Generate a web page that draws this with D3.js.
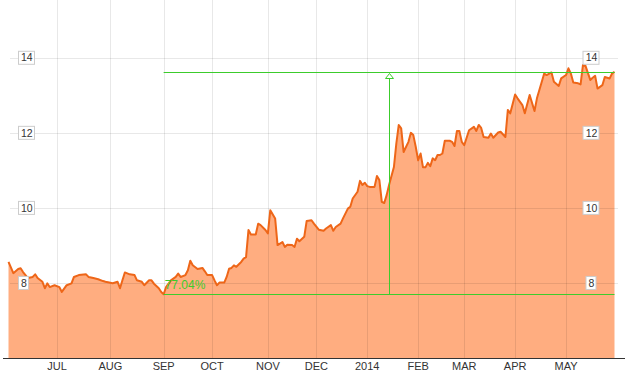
<!DOCTYPE html>
<html>
<head>
<meta charset="utf-8">
<script src="https://cdn.jsdelivr.net/npm/d3@7"></script>
<style>
  body { margin: 0; background: #fff; }
  svg { display: block; font-family: Arial, "Liberation Sans", sans-serif; }
</style>
</head>
<body>
<svg width="628" height="375"></svg>
<script>
// month ticks, as trading-day offsets from Jun 3 2013
var monthLabels = ["JUL", "AUG", "SEP", "OCT", "NOV", "DEC", "2014", "FEB", "MAR", "APR", "MAY"];
var monthStart = [20, 42, 64, 84, 107, 127, 148, 169, 188, 209, 230];
var yTicks = [8, 10, 12, 14];

// daily closes (sampled trading days)
var days = [0, 2, 4, 5, 6, 8, 10, 11, 12, 14, 15, 16, 17, 19, 21, 22, 24, 26, 27, 29,
  32, 33, 35, 37, 39, 40, 43, 45, 46, 47, 48, 50, 52, 53, 55, 56, 58, 59, 60, 62,
  63, 64, 65, 67, 69, 70, 71, 73, 74, 75, 76, 78, 80, 81, 82, 84, 85, 86, 87, 89,
  90, 91, 92, 93, 94, 96, 97, 98, 99, 100, 102, 103, 104, 106, 107, 108, 110, 111, 113, 114,
  115, 117, 118, 119, 120, 122, 123, 125, 126, 128, 130, 131, 133, 134, 135, 137, 138, 140, 141, 142,
  144, 145, 146, 147, 148, 149, 151, 152, 153, 154, 155, 156, 157, 159, 160, 161, 162, 163, 165, 166,
  167, 168, 169, 170, 171, 172, 173, 174, 175, 176, 177, 178, 179, 180, 182, 183, 184, 185, 186, 187,
  188, 190, 192, 193, 194, 195, 196, 198, 199, 200, 202, 203, 205, 206, 207, 209, 210, 212, 213, 215,
  217, 218, 220, 221, 222, 224, 225, 227, 228, 230, 231, 232, 233, 235, 236, 237, 238, 240, 241, 242,
  243, 245, 246, 248, 249, 250];
var closes = [8.56, 8.26, 8.37, 8.39, 8.29, 8.13, 8.16, 8.23, 8.13, 8.03, 7.86, 7.99, 7.89, 7.94, 7.89, 7.76, 7.94, 7.99, 8.16, 8.21,
  8.23, 8.16, 8.13, 8.10, 8.05, 8.03, 7.99, 8.03, 7.86, 8.07, 8.28, 8.23, 8.21, 8.07, 8.03, 7.94, 8.07, 8.07, 7.98, 7.86,
  7.76, 7.699, 7.89, 8.07, 8.16, 8.25, 8.16, 8.21, 8.34, 8.59, 8.47, 8.37, 8.40, 8.31, 8.21, 8.21, 8.07, 7.94, 8.01, 8.01,
  8.16, 8.38, 8.40, 8.47, 8.43, 8.56, 8.65, 8.69, 9.41, 9.29, 9.29, 9.58, 9.54, 9.41, 9.32, 9.94, 9.72, 9.01, 9.09, 8.96,
  9.02, 9.01, 8.96, 9.18, 9.11, 9.23, 9.65, 9.67, 9.58, 9.42, 9.39, 9.45, 9.54, 9.39, 9.49, 9.58, 9.72, 9.98, 10.03, 10.25,
  10.43, 10.72, 10.61, 10.67, 10.58, 10.56, 10.56, 10.85, 10.74, 10.16, 10.13, 10.34, 10.61, 11.09, 11.72, 12.21, 12.12, 11.49, 11.76, 12.00,
  11.94, 11.63, 11.27, 11.45, 11.08, 11.08, 11.20, 11.11, 11.32, 11.27, 11.41, 11.41, 11.45, 11.79, 11.79, 11.76, 11.65, 12.05, 12.05, 11.76,
  11.67, 12.07, 12.16, 12.05, 12.21, 12.13, 11.89, 11.87, 11.98, 11.87, 12.01, 12.03, 11.89, 12.61, 12.52, 13.02, 12.92, 12.74, 12.52, 13.01,
  12.58, 12.92, 13.36, 13.58, 13.54, 13.61, 13.36, 13.25, 13.45, 13.54, 13.72, 13.58, 13.34, 13.32, 13.29, 13.81, 13.79, 13.41, 13.47, 13.52,
  13.18, 13.27, 13.49, 13.45, 13.58, 13.63];

var data = days.map(function (d, i) { return { day: d, close: closes[i] }; });

var svg = d3.select("svg"),
    width = +svg.attr("width"),
    height = +svg.attr("height");

var baseY = 358;
var green = "#3ccc2c";

var x = d3.scaleLinear().domain([0, 250]).range([8.5, 614.5]);
var y = d3.scaleLinear().domain([6, 15.54]).range([baseY, 0]);

var area = d3.area()
    .x(function (d) { return x(d.day); })
    .y0(baseY)
    .y1(function (d) { return y(d.close); });

var line = d3.line()
    .x(function (d) { return x(d.day); })
    .y(function (d) { return y(d.close); });

svg.append("path")
    .datum(data)
    .attr("fill", "#ffad80")
    .attr("d", area);

// grid drawn over the fill, faint
var grid = svg.append("g")
    .attr("stroke", "#000")
    .attr("stroke-opacity", 0.09)
    .attr("shape-rendering", "crispEdges");

grid.selectAll("line.v")
    .data(monthStart)
    .enter().append("line")
    .attr("x1", function (d) { return Math.round(x(d)) + 0.5; })
    .attr("x2", function (d) { return Math.round(x(d)) + 0.5; })
    .attr("y1", 0)
    .attr("y2", baseY);

grid.selectAll("line.h")
    .data(yTicks)
    .enter().append("line")
    .attr("x1", 10)
    .attr("x2", 618)
    .attr("y1", function (d) { return Math.round(y(d)) + 0.5; })
    .attr("y2", function (d) { return Math.round(y(d)) + 0.5; });

svg.append("path")
    .datum(data)
    .attr("fill", "none")
    .attr("stroke", "#ee6618")
    .attr("stroke-width", 2)
    .attr("stroke-linejoin", "round")
    .attr("d", line);

// change annotation: lowest close -> last close
var low = d3.least(data, function (d) { return d.close; });
var last = data[data.length - 1];
var pct = last.close / low.close - 1;
var xl = x(low.day), xr = x(last.day), xm = (xl + xr) / 2;
var yl = Math.round(y(low.close)) + 0.5, yh = Math.round(y(last.close)) + 0.5;

var ann = svg.append("g").attr("stroke", green).attr("fill", "none");
ann.append("line").attr("x1", xl).attr("x2", xr).attr("y1", yl).attr("y2", yl);
ann.append("line").attr("x1", xl).attr("x2", xr).attr("y1", yh).attr("y2", yh);
ann.append("line").attr("x1", Math.round(xm) + 0.5).attr("x2", Math.round(xm) + 0.5)
    .attr("y1", yl).attr("y2", yh + 5);
ann.append("path")
    .attr("fill", "#fff")
    .attr("d", "M" + (Math.round(xm) + 0.5) + "," + (yh + 1) + "l4,5h-8z");

svg.append("text")
    .attr("x", xl + 1)
    .attr("y", yl - 6)
    .attr("fill", green)
    .attr("font-size", 12)
    .text(d3.format(".2%")(pct));

// y labels, boxed, on both sides
function yLabel(xPos, anchor) {
  var g = svg.append("g").selectAll("g")
      .data(yTicks)
      .enter().append("g")
      .attr("transform", function (d) { return "translate(" + xPos + "," + y(d) + ")"; });
  var t = g.append("text")
      .attr("font-size", 10.5)
      .attr("fill", "#333")
      .attr("dy", "0.35em")
      .attr("text-anchor", anchor)
      .text(function (d) { return d; });
  t.each(function () {
    var b = this.getBBox();
    d3.select(this.parentNode).insert("rect", "text")
        .attr("x", Math.round(b.x) - 2.5)
        .attr("y", Math.round(b.y) - 0.5)
        .attr("width", Math.round(b.width) + 4)
        .attr("height", Math.round(b.height) + 1)
        .attr("fill", "#fff")
        .attr("stroke", "#ccc");
  });
}
yLabel(21, "start");
yLabel(591.5, "middle");

// bottom axis
svg.append("line")
    .attr("x1", 3).attr("x2", 625)
    .attr("y1", baseY + 0.5).attr("y2", baseY + 0.5)
    .attr("stroke", "#333");

svg.append("g").selectAll("text")
    .data(monthStart)
    .enter().append("text")
    .attr("x", function (d) { return x(d); })
    .attr("y", 370)
    .attr("text-anchor", "middle")
    .attr("font-size", 11)
    .attr("fill", "#333")
    .text(function (d, i) { return monthLabels[i]; });
</script>
</body>
</html>
